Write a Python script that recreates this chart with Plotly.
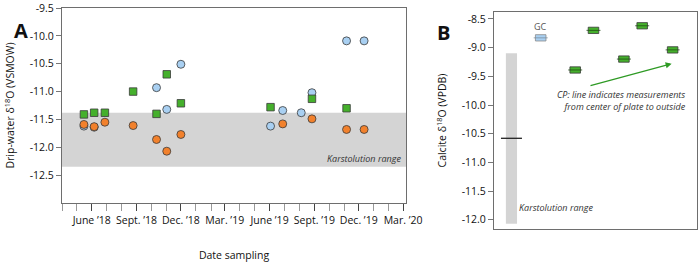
import plotly.graph_objects as go

# ---------------- Panel A data ----------------
green_dates = ["2018-05-16", "2018-06-06", "2018-06-28", "2018-08-25", "2018-10-12",
               "2018-11-02", "2018-12-01", "2019-06-03", "2019-08-27", "2019-11-06"]
green_vals = [-11.41, -11.38, -11.38, -11.00, -11.40, -10.69, -11.21, -11.28, -11.13, -11.30]

blue_dates = ["2018-05-16", "2018-06-06", "2018-10-12", "2018-11-02", "2018-12-01",
              "2019-06-03", "2019-06-28", "2019-08-05", "2019-08-27", "2019-11-06", "2019-12-12"]
blue_vals = [-11.62, -11.64, -10.93, -11.32, -10.51, -11.62, -11.34, -11.38, -11.02, -10.09, -10.09]

orange_dates = ["2018-05-16", "2018-06-06", "2018-06-28", "2018-08-25", "2018-10-12",
                "2018-11-02", "2018-12-01", "2019-06-28", "2019-08-27", "2019-11-06", "2019-12-12"]
orange_vals = [-11.59, -11.63, -11.55, -11.61, -11.86, -12.07, -11.77, -11.58, -11.49, -11.68, -11.68]

karst_a = [-12.35, -11.38]  # Karstolution range, drip water

a_tickvals = ["2018-06-01", "2018-09-01", "2018-12-01", "2019-03-01",
              "2019-06-01", "2019-09-01", "2019-12-01", "2020-03-01"]
a_ticktext = ["June ’18", "Sept. ’18", "Dec. ’18", "Mar. ’19",
              "June ’19", "Sept. ’19", "Dec. ’19", "Mar. ’20"]
a_yticks = [-9.5, -10.0, -10.5, -11.0, -11.5, -12.0, -12.5]

# ---------------- Panel B data ----------------
karst_b = [-12.07, -9.10]
karst_b_x = 0.86
karst_b_mark = -10.58
gc_x = [2.3]
gc_vals = [-8.83]
cp_x = [4.0, 4.9, 6.4, 7.3, 8.8]
cp_vals = [-9.39, -8.70, -9.20, -8.62, -9.04]
b_yticks = [-8.5, -9.0, -9.5, -10.0, -10.5, -11.0, -11.5, -12.0]

FONT = "Open Sans"
GREEN = "#45b02c"
BLUE = "#a9d0f2"
ORANGE = "#f2812c"
EDGE = "#3a3a3a"
GRAY = "#d4d4d4"

def fmt(v):
    return f"{v:.1f}"

fig = go.Figure()

# Panel A scatter
fig.add_trace(go.Scatter(x=blue_dates, y=blue_vals, mode="markers",
                         marker=dict(symbol="circle", size=8, color=BLUE, line=dict(color=EDGE, width=0.8)),
                         xaxis="x", yaxis="y", showlegend=False))
fig.add_trace(go.Scatter(x=orange_dates, y=orange_vals, mode="markers",
                         marker=dict(symbol="circle", size=8, color=ORANGE, line=dict(color=EDGE, width=0.8)),
                         xaxis="x", yaxis="y", showlegend=False))
fig.add_trace(go.Scatter(x=green_dates, y=green_vals, mode="markers",
                         marker=dict(symbol="square", size=7.5, color=GREEN, line=dict(color=EDGE, width=0.8)),
                         xaxis="x", yaxis="y", showlegend=False))

# Panel B: karst range bar
fig.add_trace(go.Bar(x=[karst_b_x], y=[karst_b[1] - karst_b[0]], base=[karst_b[0]], width=0.55,
                     marker=dict(color=GRAY, line=dict(width=0)), xaxis="x2", yaxis="y2", showlegend=False))
fig.add_trace(go.Scatter(x=[karst_b_x], y=[karst_b_mark], mode="markers",
                         marker=dict(symbol="line-ew", size=15, line=dict(color="#222", width=1.3)),
                         xaxis="x2", yaxis="y2", showlegend=False))

# GC rectangle
h = 0.055
fig.add_trace(go.Bar(x=gc_x, y=[2 * h] * len(gc_vals), base=[v - h for v in gc_vals], width=0.52,
                     marker=dict(color=BLUE, line=dict(color="#8a8a8a", width=0.8)),
                     xaxis="x2", yaxis="y2", showlegend=False))
fig.add_trace(go.Scatter(x=gc_x, y=gc_vals, mode="markers",
                         marker=dict(symbol="line-ew", size=10, line=dict(color="#7a8fa0", width=0.8)),
                         xaxis="x2", yaxis="y2", showlegend=False))
# CP rectangles
fig.add_trace(go.Bar(x=cp_x, y=[2 * h] * len(cp_vals), base=[v - h for v in cp_vals], width=0.52,
                     marker=dict(color=GREEN, line=dict(color=EDGE, width=0.8)),
                     xaxis="x2", yaxis="y2", showlegend=False))
fig.add_trace(go.Scatter(x=cp_x, y=cp_vals, mode="markers",
                         marker=dict(symbol="line-ew", size=10, line=dict(color="#1f4d14", width=0.8)),
                         xaxis="x2", yaxis="y2", showlegend=False))

W, H = 699, 263
def px_x(a, b):
    return [a / W, b / W]
def px_y(top, bottom):
    return [(H - bottom) / H, (H - top) / H]

axis_common = dict(showgrid=False, zeroline=False, mirror=True, showline=True,
                   linecolor="#6e6e6e", linewidth=1.2, automargin=False,
                   tickfont=dict(family=FONT, size=10.5, color="#111"))

fig.update_layout(
    width=W, height=H,
    margin=dict(l=0, r=0, t=0, b=0),
    paper_bgcolor="white", plot_bgcolor="white",
    barmode="overlay",
    font=dict(family=FONT, color="#111"),
    xaxis=dict(domain=px_x(62, 406), type="date", range=["2018-04-01", "2020-03-07"],
               tickmode="array", tickvals=a_tickvals, ticktext=a_ticktext,
               ticks="outside", ticklen=7, tickcolor="#444", tickwidth=1.2,
               minor=dict(tick0="2018-04-01", dtick="M1", ticks="outside", ticklen=7,
                          tickcolor="#999", tickwidth=0.8),
               title=dict(text="Date sampling", standoff=25, font=dict(family=FONT, size=10.5)),
               anchor="y", **axis_common),
    yaxis=dict(domain=px_y(8, 203), range=[-13.0, -9.5],
               tickmode="array", tickvals=a_yticks, ticktext=[fmt(v) for v in a_yticks],
               ticks="outside", ticklen=5, tickcolor="#777",
               title=dict(text="Drip-water δ<sup>18</sup>O (VSMOW)", standoff=12,
                          font=dict(family=FONT, size=10.5)),
               anchor="x", **axis_common),
    xaxis2=dict(domain=px_x(494, 697), range=[0, 10], showticklabels=False, ticks="",
                anchor="y2", **axis_common),
    yaxis2=dict(domain=px_y(12, 229), range=[-12.16, -8.38],
                tickmode="array", tickvals=b_yticks, ticktext=[fmt(v) for v in b_yticks],
                ticks="outside", ticklen=5, tickcolor="#777",
                title=dict(text="Calcite δ<sup>18</sup>O (VPDB)", standoff=12,
                           font=dict(family=FONT, size=10.5)),
                anchor="x2", **axis_common),
    shapes=[dict(type="rect", xref="x domain", yref="y", x0=0, x1=1,
                 y0=karst_a[0], y1=karst_a[1], fillcolor=GRAY, line=dict(width=0), layer="below")],
)

fig.add_annotation(text="Karstolution range", xref="x domain", yref="y", x=0.99, y=karst_a[0] + 0.15,
                   xanchor="right", showarrow=False,
                   font=dict(family=FONT, size=9, color="#333", style="italic"))
fig.add_annotation(text="Karstolution range", xref="x2", yref="y2", x=karst_b_x + 0.28, y=-11.78,
                   xanchor="left", showarrow=False,
                   font=dict(family=FONT, size=9, color="#333", style="italic"))
fig.add_annotation(text="GC", xref="x2", yref="y2", x=gc_x[0], y=gc_vals[0] + 0.2,
                   showarrow=False, font=dict(family=FONT, size=9, color="#555"))
fig.add_annotation(text="CP: line indicates measurements<br>from center of plate to outside",
                   xref="x2", yref="y2", x=9.55, y=-9.93, xanchor="right", align="right",
                   showarrow=False, font=dict(family=FONT, size=9, color="#333", style="italic"))
fig.add_annotation(xref="x2", yref="y2", axref="x2", ayref="y2", x=8.75, y=-9.28, ax=4.68, ay=-9.67,
                   text="", showarrow=True, arrowhead=2, arrowsize=1, arrowwidth=1.2, arrowcolor="#2e9a24")
fig.add_annotation(text="<b>A</b>", xref="paper", yref="paper", x=12 / W, y=1 - 15 / H,
                   showarrow=False, font=dict(family=FONT, size=20, color="#111"))
fig.add_annotation(text="<b>B</b>", xref="paper", yref="paper", x=443 / W, y=1 - 17 / H,
                   showarrow=False, font=dict(family=FONT, size=20, color="#111"))

fig.write_html("out.html", config={"displayModeBar": False},
               post_script="document.body.style.margin='0';document.body.style.overflow='hidden';")
